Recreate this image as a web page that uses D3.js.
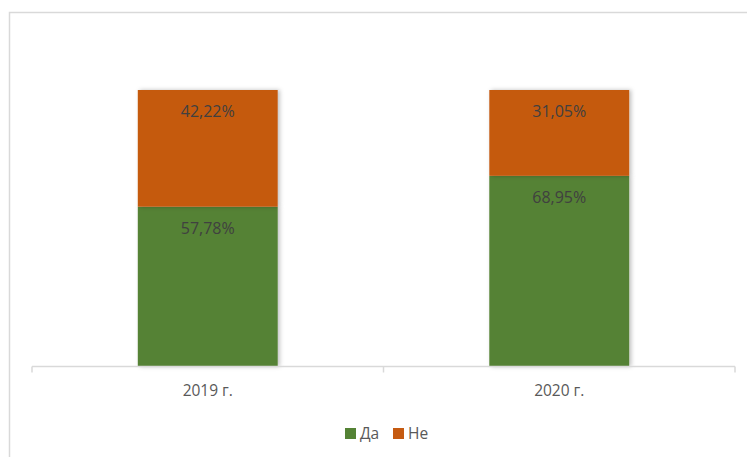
<!DOCTYPE html>
<html><head><meta charset="utf-8">
<script src="https://cdn.jsdelivr.net/npm/d3@7"></script>
<style>body{margin:0;background:#fff}svg{display:block}text{font-family:"Open Sans","Liberation Sans",sans-serif}</style>
</head><body>
<svg id="c" width="747" height="457"></svg>
<script>
const categories = ["2019 г.", "2020 г."];
const seriesNames = ["Да", "Не"];
const yesValues = [57.78, 68.95];
const noValues = [42.22, 31.05];
const colors = ["#548235", "#C55A11"];

const svg = d3.select("#c");
const defs = svg.append("defs");
const f = defs.append("filter").attr("id","sh").attr("x","-10%").attr("y","-10%").attr("width","130%").attr("height","130%");
f.append("feDropShadow").attr("dx",2).attr("dy",0).attr("stdDeviation",2).attr("flood-color","#000").attr("flood-opacity",0.25);

// chart border
svg.append("rect").attr("x",9.5).attr("y",12.5).attr("width",760).attr("height",470)
  .attr("fill","none").attr("stroke","#d9d9d9").attr("stroke-width",1.5);

const x0 = 32, x1 = 735, yTop = 90, yBot = 366.5;
const x = d3.scaleBand().domain(categories).range([x0, x1]).paddingInner(0.602).paddingOuter(0.301);
const y = d3.scaleLinear().domain([0, 100]).range([yBot, yTop]);

const data = categories.map((c,i)=>({cat:c, vals:[yesValues[i], noValues[i]]}));
const stack = d3.stack().keys([0,1]).value((d,k)=>d.vals[k]);
const series = stack(data);

const g = svg.append("g");
series.forEach((s,k)=>{
  g.selectAll(null).data(s).enter().append("rect")
    .attr("x", d=>x(d.data.cat)).attr("width", x.bandwidth())
    .attr("y", d=>y(d[1])).attr("height", d=>y(d[0])-y(d[1]))
    .attr("fill", colors[k]).attr("filter","url(#sh)");
});
series.forEach((s,k)=>{
  g.selectAll(null).data(s).enter().append("text")
    .attr("x", d=>x(d.data.cat)+x.bandwidth()/2).attr("y", d=>y(d[1])+27)
    .attr("text-anchor","middle").attr("font-size",16).attr("fill","#404040")
    .text(d=>d.data.vals[k].toFixed(2).replace(".",",")+"%");
});

// axis
const ax = svg.append("g").attr("transform",`translate(0,${yBot})`)
  .call(d3.axisBottom(x).tickSize(0).tickPadding(18));
ax.select(".domain").attr("stroke","#d9d9d9").attr("stroke-width",1.5).attr("d",`M${x0},0H${x1}`);
ax.selectAll("text").attr("font-size",15.5).attr("fill","#595959").style("font-family",'"Open Sans","Liberation Sans",sans-serif');
const bounds = [x0, x0+x.step(), x1];
ax.selectAll(".bt").data(bounds).enter().append("line")
  .attr("x1",d=>d).attr("x2",d=>d).attr("y1",0).attr("y2",6).attr("stroke","#d9d9d9").attr("stroke-width",1.5);

// legend
const lg = svg.append("g").attr("transform","translate(345,433)");
const items = [{n:seriesNames[0],c:colors[0],x:0},{n:seriesNames[1],c:colors[1],x:48}];
items.forEach(it=>{
  lg.append("rect").attr("x",it.x).attr("y",-5).attr("width",11).attr("height",11).attr("fill",it.c);
  lg.append("text").attr("x",it.x+15).attr("y",6).attr("font-size",15.5).attr("fill","#595959").text(it.n);
});
</script>
</body></html>
